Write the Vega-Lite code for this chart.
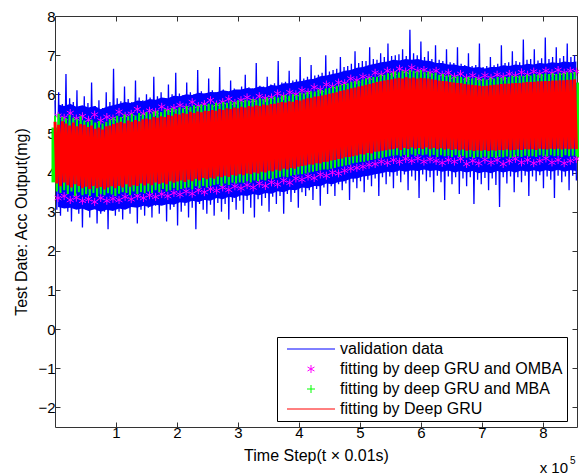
{
"$schema":"https://vega.github.io/schema/vega-lite/v6.json",
"width":522,"height":411,
"autosize":{"type":"none"},
"padding":{"left":55,"top":16,"right":2,"bottom":47},
"background":"white",
"config":{"view":{"stroke":"#333","strokeWidth":1},"font":"Liberation Sans",
"axis":{"labelFont":"Liberation Sans","titleFont":"Liberation Sans","labelFontSize":15,"titleFontSize":16,"titleFontWeight":"normal","labelColor":"#000","titleColor":"#000","tickColor":"#333","grid":false,"domain":false}},
"datasets":{
"main":[
{"x":0,"b":5.85,"g":5.45,"r":5.30},{"x":3000,"b":3.05,"g":3.52,"r":3.72},{"x":6000,"b":6.05,"g":5.50,"r":5.22},{"x":9000,"b":2.90,"g":3.48,"r":3.65},{"x":12000,"b":5.75,"g":5.42,"r":5.31},{"x":15000,"b":3.20,"g":3.55,"r":3.75},{"x":18000,"b":6.52,"g":5.38,"r":5.25},{"x":21000,"b":3.00,"g":3.45,"r":3.68},{"x":24000,"b":5.90,"g":5.47,"r":5.20},{"x":27000,"b":2.75,"g":3.52,"r":3.62},{"x":30000,"b":5.80,"g":5.40,"r":5.28},{"x":33000,"b":3.10,"g":3.40,"r":3.70},{"x":36000,"b":6.10,"g":5.36,"r":5.18},{"x":39000,"b":2.95,"g":3.50,"r":3.66},{"x":42000,"b":5.70,"g":5.44,"r":5.24},{"x":45000,"b":2.60,"g":3.42,"r":3.60},{"x":48000,"b":5.95,"g":5.33,"r":5.22},
{"x":51000,"b":3.05,"g":3.45,"r":3.64},{"x":54000,"b":5.78,"g":5.30,"r":5.16},{"x":57000,"b":2.85,"g":3.40,"r":3.58},{"x":60000,"b":6.30,"g":5.35,"r":5.20},{"x":63000,"b":3.15,"g":3.48,"r":3.66},{"x":66000,"b":5.70,"g":5.28,"r":5.12},{"x":69000,"b":2.70,"g":3.38,"r":3.60},{"x":72000,"b":5.85,"g":5.32,"r":5.15},{"x":75000,"b":2.95,"g":3.45,"r":3.63},{"x":78000,"b":5.65,"g":5.25,"r":5.10},{"x":81000,"b":3.00,"g":3.42,"r":3.57},{"x":84000,"b":6.05,"g":5.30,"r":5.18},{"x":87000,"b":2.55,"g":3.47,"r":3.62},{"x":90000,"b":5.80,"g":5.36,"r":5.20},{"x":93000,"b":3.10,"g":3.44,"r":3.65},{"x":96000,"b":6.65,"g":5.40,"r":5.24},{"x":99000,"b":2.90,"g":3.40,"r":3.60},
{"x":102000,"b":5.90,"g":5.45,"r":5.27},{"x":105000,"b":3.00,"g":3.46,"r":3.66},{"x":108000,"b":5.82,"g":5.42,"r":5.30},{"x":111000,"b":2.80,"g":3.50,"r":3.62},{"x":114000,"b":6.20,"g":5.48,"r":5.26},{"x":117000,"b":3.10,"g":3.48,"r":3.70},{"x":120000,"b":5.88,"g":5.44,"r":5.33},{"x":123000,"b":2.95,"g":3.42,"r":3.64},{"x":126000,"b":5.80,"g":5.50,"r":5.30},{"x":129000,"b":3.15,"g":3.52,"r":3.68},{"x":132000,"b":6.35,"g":5.46,"r":5.34},{"x":135000,"b":2.70,"g":3.45,"r":3.66},{"x":138000,"b":5.92,"g":5.52,"r":5.31},{"x":141000,"b":3.05,"g":3.50,"r":3.72},{"x":144000,"b":5.85,"g":5.48,"r":5.36},{"x":147000,"b":2.90,"g":3.47,"r":3.67},{"x":150000,"b":6.00,"g":5.55,"r":5.38},
{"x":153000,"b":3.10,"g":3.52,"r":3.72},{"x":156000,"b":5.92,"g":5.50,"r":5.36},{"x":159000,"b":2.85,"g":3.48,"r":3.68},{"x":162000,"b":6.45,"g":5.56,"r":5.42},{"x":165000,"b":3.15,"g":3.55,"r":3.75},{"x":168000,"b":5.95,"g":5.58,"r":5.40},{"x":171000,"b":2.95,"g":3.50,"r":3.71},{"x":174000,"b":6.05,"g":5.55,"r":5.44},{"x":177000,"b":3.20,"g":3.58,"r":3.74},{"x":180000,"b":5.90,"g":5.62,"r":5.42},{"x":183000,"b":2.75,"g":3.52,"r":3.70},{"x":186000,"b":6.25,"g":5.60,"r":5.47},{"x":189000,"b":3.05,"g":3.55,"r":3.78},{"x":192000,"b":6.00,"g":5.64,"r":5.45},{"x":195000,"b":3.12,"g":3.60,"r":3.74},{"x":198000,"b":6.55,"g":5.62,"r":5.50},{"x":201000,"b":2.65,"g":3.55,"r":3.77},
{"x":204000,"b":6.02,"g":5.66,"r":5.48},{"x":207000,"b":3.00,"g":3.58,"r":3.80},{"x":210000,"b":5.98,"g":5.64,"r":5.52},{"x":213000,"b":3.15,"g":3.60,"r":3.76},{"x":216000,"b":6.30,"g":5.70,"r":5.50},{"x":219000,"b":2.85,"g":3.62,"r":3.82},{"x":222000,"b":6.05,"g":5.68,"r":5.55},{"x":225000,"b":3.10,"g":3.57,"r":3.78},{"x":228000,"b":6.00,"g":5.72,"r":5.52},{"x":231000,"b":2.55,"g":3.65,"r":3.84},{"x":234000,"b":6.62,"g":5.70,"r":5.56},{"x":237000,"b":3.20,"g":3.60,"r":3.80},{"x":240000,"b":6.08,"g":5.74,"r":5.54},{"x":243000,"b":3.05,"g":3.66,"r":3.86},{"x":246000,"b":6.02,"g":5.72,"r":5.58},{"x":249000,"b":2.95,"g":3.62,"r":3.83},{"x":252000,"b":6.40,"g":5.76,"r":5.57},
{"x":255000,"b":3.18,"g":3.66,"r":3.87},{"x":258000,"b":6.10,"g":5.74,"r":5.60},{"x":261000,"b":2.90,"g":3.68,"r":3.84},{"x":264000,"b":6.05,"g":5.78,"r":5.58},{"x":267000,"b":3.22,"g":3.70,"r":3.90},{"x":270000,"b":6.70,"g":5.76,"r":5.62},{"x":273000,"b":3.00,"g":3.66,"r":3.88},{"x":276000,"b":6.12,"g":5.80,"r":5.60},{"x":279000,"b":3.20,"g":3.72,"r":3.92},{"x":282000,"b":6.08,"g":5.78,"r":5.64},{"x":285000,"b":2.80,"g":3.68,"r":3.89},{"x":288000,"b":6.35,"g":5.82,"r":5.62},{"x":291000,"b":3.25,"g":3.74,"r":3.94},{"x":294000,"b":6.15,"g":5.80,"r":5.66},{"x":297000,"b":3.05,"g":3.72,"r":3.92},{"x":300000,"b":6.10,"g":5.85,"r":5.64},{"x":303000,"b":3.28,"g":3.75,"r":3.96},
{"x":306000,"b":6.20,"g":5.82,"r":5.68},{"x":309000,"b":2.95,"g":3.74,"r":3.93},{"x":312000,"b":6.50,"g":5.86,"r":5.66},{"x":315000,"b":3.30,"g":3.78,"r":3.98},{"x":318000,"b":6.18,"g":5.84,"r":5.70},{"x":321000,"b":3.10,"g":3.75,"r":3.96},{"x":324000,"b":6.15,"g":5.88,"r":5.69},{"x":327000,"b":2.85,"g":3.80,"r":4.00},{"x":330000,"b":6.80,"g":5.86,"r":5.72},{"x":333000,"b":3.32,"g":3.78,"r":3.98},{"x":336000,"b":6.22,"g":5.90,"r":5.70},{"x":339000,"b":3.15,"g":3.82,"r":4.02},{"x":342000,"b":6.20,"g":5.88,"r":5.74},{"x":345000,"b":3.35,"g":3.80,"r":4.00},{"x":348000,"b":6.45,"g":5.92,"r":5.72},{"x":351000,"b":3.00,"g":3.84,"r":4.05},{"x":354000,"b":6.25,"g":5.90,"r":5.75},
{"x":357000,"b":3.38,"g":3.83,"r":4.03},{"x":360000,"b":6.28,"g":5.94,"r":5.76},{"x":363000,"b":3.20,"g":3.86,"r":4.07},{"x":366000,"b":6.85,"g":5.92,"r":5.78},{"x":369000,"b":3.40,"g":3.88,"r":4.05},{"x":372000,"b":6.30,"g":5.96,"r":5.80},{"x":375000,"b":2.95,"g":3.90,"r":4.10},{"x":378000,"b":6.32,"g":5.98,"r":5.79},{"x":381000,"b":3.45,"g":3.88,"r":4.08},{"x":384000,"b":6.60,"g":5.96,"r":5.82},{"x":387000,"b":3.25,"g":3.92,"r":4.12},{"x":390000,"b":6.35,"g":6.00,"r":5.81},{"x":393000,"b":3.48,"g":3.94,"r":4.10},{"x":396000,"b":6.38,"g":5.98,"r":5.85},{"x":399000,"b":3.10,"g":3.95,"r":4.15},{"x":402000,"b":6.95,"g":6.04,"r":5.84},{"x":405000,"b":3.50,"g":3.96,"r":4.17},
{"x":408000,"b":6.40,"g":6.02,"r":5.87},{"x":411000,"b":3.40,"g":3.98,"r":4.18},{"x":414000,"b":6.45,"g":6.06,"r":5.90},{"x":417000,"b":3.55,"g":4.00,"r":4.21},{"x":420000,"b":6.75,"g":6.08,"r":5.91},{"x":423000,"b":3.30,"g":4.02,"r":4.20},{"x":426000,"b":6.48,"g":6.07,"r":5.94},{"x":429000,"b":3.58,"g":4.04,"r":4.24},{"x":432000,"b":6.50,"g":6.12,"r":5.95},{"x":435000,"b":3.15,"g":4.06,"r":4.23},{"x":438000,"b":6.55,"g":6.10,"r":5.97},{"x":441000,"b":3.62,"g":4.08,"r":4.27},{"x":444000,"b":7.00,"g":6.15,"r":5.99},{"x":447000,"b":3.45,"g":4.08,"r":4.28},{"x":450000,"b":6.58,"g":6.16,"r":6.01},{"x":453000,"b":3.65,"g":4.10,"r":4.31},{"x":456000,"b":6.62,"g":6.20,"r":6.03},
{"x":459000,"b":3.40,"g":4.12,"r":4.32},{"x":462000,"b":6.65,"g":6.22,"r":6.05},{"x":465000,"b":3.70,"g":4.15,"r":4.35},{"x":468000,"b":6.95,"g":6.24,"r":6.08},{"x":471000,"b":3.55,"g":4.16,"r":4.36},{"x":474000,"b":6.70,"g":6.26,"r":6.10},{"x":477000,"b":3.72,"g":4.18,"r":4.39},{"x":480000,"b":6.72,"g":6.28,"r":6.13},{"x":483000,"b":3.30,"g":4.20,"r":4.40},{"x":486000,"b":6.78,"g":6.32,"r":6.15},{"x":489000,"b":3.75,"g":4.24,"r":4.42},{"x":492000,"b":7.10,"g":6.33,"r":6.17},{"x":495000,"b":3.60,"g":4.25,"r":4.44},{"x":498000,"b":6.80,"g":6.35,"r":6.20},{"x":501000,"b":3.78,"g":4.27,"r":4.47},{"x":504000,"b":6.85,"g":6.38,"r":6.22},{"x":507000,"b":3.50,"g":4.28,"r":4.46},
{"x":510000,"b":6.85,"g":6.40,"r":6.24},{"x":513000,"b":3.82,"g":4.30,"r":4.50},{"x":516000,"b":7.20,"g":6.42,"r":6.26},{"x":519000,"b":3.65,"g":4.32,"r":4.49},{"x":522000,"b":6.90,"g":6.44,"r":6.29},{"x":525000,"b":3.85,"g":4.34,"r":4.53},{"x":528000,"b":6.88,"g":6.45,"r":6.31},{"x":531000,"b":3.40,"g":4.36,"r":4.54},{"x":534000,"b":7.05,"g":6.50,"r":6.33},{"x":537000,"b":3.88,"g":4.38,"r":4.56},{"x":540000,"b":6.95,"g":6.50,"r":6.35},{"x":543000,"b":3.70,"g":4.40,"r":4.57},{"x":546000,"b":7.30,"g":6.54,"r":6.37},{"x":549000,"b":3.90,"g":4.42,"r":4.59},{"x":552000,"b":6.98,"g":6.55,"r":6.38},{"x":555000,"b":3.60,"g":4.43,"r":4.60},{"x":558000,"b":7.00,"g":6.58,"r":6.40},
{"x":561000,"b":3.92,"g":4.44,"r":4.62},{"x":564000,"b":7.02,"g":6.56,"r":6.42},{"x":567000,"b":3.75,"g":4.42,"r":4.58},{"x":570000,"b":7.15,"g":6.60,"r":6.40},{"x":573000,"b":3.95,"g":4.45,"r":4.63},{"x":576000,"b":6.98,"g":6.58,"r":6.44},{"x":579000,"b":3.55,"g":4.40,"r":4.60},{"x":582000,"b":7.65,"g":6.62,"r":6.41},{"x":585000,"b":3.90,"g":4.46,"r":4.64},{"x":588000,"b":7.05,"g":6.60,"r":6.43},{"x":591000,"b":3.80,"g":4.43,"r":4.61},{"x":594000,"b":7.00,"g":6.58,"r":6.40},{"x":597000,"b":3.35,"g":4.47,"r":4.63},{"x":600000,"b":7.35,"g":6.62,"r":6.42},{"x":603000,"b":3.95,"g":4.44,"r":4.60},{"x":606000,"b":6.95,"g":6.56,"r":6.41},{"x":609000,"b":3.78,"g":4.46,"r":4.64},
{"x":612000,"b":7.10,"g":6.58,"r":6.40},{"x":615000,"b":3.88,"g":4.42,"r":4.60},{"x":618000,"b":6.90,"g":6.54,"r":6.38},{"x":621000,"b":3.50,"g":4.45,"r":4.63},{"x":624000,"b":7.25,"g":6.55,"r":6.37},{"x":627000,"b":3.92,"g":4.40,"r":4.60},{"x":630000,"b":6.88,"g":6.50,"r":6.35},{"x":633000,"b":3.75,"g":4.44,"r":4.62},{"x":636000,"b":6.85,"g":6.52,"r":6.34},{"x":639000,"b":3.30,"g":4.42,"r":4.59},{"x":642000,"b":7.15,"g":6.48,"r":6.33},{"x":645000,"b":3.90,"g":4.43,"r":4.61},{"x":648000,"b":6.82,"g":6.49,"r":6.31},{"x":651000,"b":3.70,"g":4.40,"r":4.58},{"x":654000,"b":6.80,"g":6.45,"r":6.30},{"x":657000,"b":3.88,"g":4.44,"r":4.60},{"x":660000,"b":7.20,"g":6.46,"r":6.29},
{"x":663000,"b":3.45,"g":4.40,"r":4.57},{"x":666000,"b":6.78,"g":6.44,"r":6.28},{"x":669000,"b":3.85,"g":4.42,"r":4.59},{"x":672000,"b":6.75,"g":6.42,"r":6.26},{"x":675000,"b":3.65,"g":4.38,"r":4.56},{"x":678000,"b":7.05,"g":6.44,"r":6.25},{"x":681000,"b":3.88,"g":4.40,"r":4.58},{"x":684000,"b":6.72,"g":6.40,"r":6.24},{"x":687000,"b":3.20,"g":4.37,"r":4.55},{"x":690000,"b":6.75,"g":6.42,"r":6.23},{"x":693000,"b":3.82,"g":4.40,"r":4.57},{"x":696000,"b":7.30,"g":6.38,"r":6.22},{"x":699000,"b":3.70,"g":4.38,"r":4.56},{"x":702000,"b":6.70,"g":6.40,"r":6.21},{"x":705000,"b":3.86,"g":4.41,"r":4.58},{"x":708000,"b":6.72,"g":6.38,"r":6.22},{"x":711000,"b":3.55,"g":4.36,"r":4.55},
{"x":714000,"b":6.95,"g":6.42,"r":6.23},{"x":717000,"b":3.85,"g":4.40,"r":4.57},{"x":720000,"b":6.74,"g":6.40,"r":6.24},{"x":723000,"b":3.68,"g":4.38,"r":4.56},{"x":726000,"b":6.78,"g":6.44,"r":6.25},{"x":729000,"b":3.12,"g":4.40,"r":4.58},{"x":732000,"b":7.25,"g":6.42,"r":6.26},{"x":735000,"b":3.88,"g":4.39,"r":4.57},{"x":738000,"b":6.80,"g":6.45,"r":6.27},{"x":741000,"b":3.72,"g":4.41,"r":4.59},{"x":744000,"b":6.82,"g":6.44,"r":6.27},{"x":747000,"b":3.90,"g":4.38,"r":4.57},{"x":750000,"b":7.10,"g":6.47,"r":6.28},{"x":753000,"b":3.50,"g":4.40,"r":4.58},{"x":756000,"b":6.85,"g":6.46,"r":6.29},{"x":759000,"b":3.88,"g":4.42,"r":4.59},{"x":762000,"b":6.82,"g":6.48,"r":6.29},
{"x":765000,"b":3.75,"g":4.40,"r":4.58},{"x":768000,"b":7.40,"g":6.47,"r":6.30},{"x":771000,"b":3.92,"g":4.43,"r":4.60},{"x":774000,"b":6.88,"g":6.50,"r":6.31},{"x":777000,"b":3.40,"g":4.41,"r":4.59},{"x":780000,"b":6.90,"g":6.48,"r":6.31},{"x":783000,"b":3.90,"g":4.42,"r":4.60},{"x":786000,"b":7.15,"g":6.52,"r":6.32},{"x":789000,"b":3.78,"g":4.40,"r":4.58},{"x":792000,"b":6.86,"g":6.50,"r":6.33},{"x":795000,"b":3.93,"g":4.44,"r":4.61},{"x":798000,"b":6.92,"g":6.52,"r":6.33},{"x":801000,"b":3.60,"g":4.42,"r":4.60},{"x":804000,"b":7.45,"g":6.53,"r":6.34},{"x":807000,"b":3.90,"g":4.41,"r":4.59},{"x":810000,"b":6.90,"g":6.52,"r":6.34},{"x":813000,"b":3.82,"g":4.44,"r":4.61},
{"x":816000,"b":6.95,"g":6.54,"r":6.35},{"x":819000,"b":3.35,"g":4.42,"r":4.60},{"x":822000,"b":7.20,"g":6.52,"r":6.35},{"x":825000,"b":3.92,"g":4.43,"r":4.61},{"x":828000,"b":6.92,"g":6.55,"r":6.36},{"x":831000,"b":3.75,"g":4.40,"r":4.59},{"x":834000,"b":6.98,"g":6.54,"r":6.36},{"x":837000,"b":3.90,"g":4.44,"r":4.61},{"x":840000,"b":7.30,"g":6.56,"r":6.37},{"x":843000,"b":3.55,"g":4.42,"r":4.60},{"x":846000,"b":6.95,"g":6.55,"r":6.37},{"x":849000,"b":3.92,"g":4.43,"r":4.61},{"x":852000,"b":7.00,"g":6.57,"r":6.38},{"x":855000,"b":3.80,"g":4.42,"r":4.60}
],
"env":[
{"x":5000,"t":5.45,"b":3.35,"bt":5.74,"bb":3.12},{"x":15000,"t":5.40,"b":3.40,"bt":5.70,"bb":3.08},{"x":25000,"t":5.52,"b":3.30,"bt":5.76,"bb":3.10},{"x":35000,"t":5.38,"b":3.36,"bt":5.68,"bb":3.05},{"x":45000,"t":5.44,"b":3.28,"bt":5.72,"bb":3.08},{"x":55000,"t":5.35,"b":3.32,"bt":5.66,"bb":3.02},{"x":65000,"t":5.48,"b":3.25,"bt":5.70,"bb":3.06},{"x":75000,"t":5.33,"b":3.35,"bt":5.62,"bb":3.00},{"x":85000,"t":5.42,"b":3.28,"bt":5.68,"bb":3.05},{"x":95000,"t":5.38,"b":3.33,"bt":5.72,"bb":3.02},
{"x":105000,"t":5.55,"b":3.30,"bt":5.76,"bb":3.08},{"x":115000,"t":5.45,"b":3.38,"bt":5.80,"bb":3.05},{"x":125000,"t":5.50,"b":3.32,"bt":5.78,"bb":3.12},{"x":135000,"t":5.62,"b":3.40,"bt":5.84,"bb":3.10},{"x":145000,"t":5.50,"b":3.35,"bt":5.82,"bb":3.15},{"x":155000,"t":5.58,"b":3.42,"bt":5.88,"bb":3.12},{"x":165000,"t":5.55,"b":3.38,"bt":5.86,"bb":3.18},{"x":175000,"t":5.68,"b":3.45,"bt":5.92,"bb":3.15},{"x":185000,"t":5.60,"b":3.40,"bt":5.90,"bb":3.20},{"x":195000,"t":5.65,"b":3.48,"bt":5.96,"bb":3.18},
{"x":205000,"t":5.72,"b":3.44,"bt":5.95,"bb":3.24},{"x":215000,"t":5.66,"b":3.52,"bt":6.00,"bb":3.22},{"x":225000,"t":5.80,"b":3.46,"bt":5.98,"bb":3.28},{"x":235000,"t":5.70,"b":3.55,"bt":6.04,"bb":3.25},{"x":245000,"t":5.75,"b":3.50,"bt":6.02,"bb":3.30},{"x":255000,"t":5.85,"b":3.58,"bt":6.06,"bb":3.28},{"x":265000,"t":5.74,"b":3.54,"bt":6.05,"bb":3.35},{"x":275000,"t":5.80,"b":3.62,"bt":6.10,"bb":3.32},{"x":285000,"t":5.88,"b":3.56,"bt":6.08,"bb":3.38},{"x":295000,"t":5.78,"b":3.65,"bt":6.12,"bb":3.35},
{"x":305000,"t":5.85,"b":3.60,"bt":6.12,"bb":3.42},{"x":315000,"t":5.92,"b":3.68,"bt":6.16,"bb":3.40},{"x":325000,"t":5.84,"b":3.62,"bt":6.15,"bb":3.45},{"x":335000,"t":5.95,"b":3.72,"bt":6.20,"bb":3.42},{"x":345000,"t":5.90,"b":3.66,"bt":6.18,"bb":3.48},{"x":355000,"t":5.92,"b":3.75,"bt":6.24,"bb":3.46},{"x":365000,"t":6.02,"b":3.70,"bt":6.22,"bb":3.52},{"x":375000,"t":5.95,"b":3.80,"bt":6.28,"bb":3.50},{"x":385000,"t":6.05,"b":3.74,"bt":6.28,"bb":3.56},{"x":395000,"t":6.00,"b":3.85,"bt":6.32,"bb":3.55},
{"x":405000,"t":6.10,"b":3.82,"bt":6.34,"bb":3.62},{"x":415000,"t":6.05,"b":3.90,"bt":6.38,"bb":3.60},{"x":425000,"t":6.18,"b":3.86,"bt":6.40,"bb":3.66},{"x":435000,"t":6.12,"b":3.95,"bt":6.46,"bb":3.65},{"x":445000,"t":6.25,"b":3.92,"bt":6.48,"bb":3.72},{"x":455000,"t":6.20,"b":4.00,"bt":6.52,"bb":3.70},{"x":465000,"t":6.30,"b":3.98,"bt":6.55,"bb":3.76},{"x":475000,"t":6.28,"b":4.05,"bt":6.60,"bb":3.78},{"x":485000,"t":6.40,"b":4.10,"bt":6.62,"bb":3.84},{"x":495000,"t":6.36,"b":4.12,"bt":6.68,"bb":3.85},
{"x":505000,"t":6.45,"b":4.15,"bt":6.70,"bb":3.90},{"x":515000,"t":6.42,"b":4.20,"bt":6.75,"bb":3.92},{"x":525000,"t":6.55,"b":4.22,"bt":6.78,"bb":3.96},{"x":535000,"t":6.50,"b":4.28,"bt":6.82,"bb":3.98},{"x":545000,"t":6.60,"b":4.25,"bt":6.84,"bb":4.02},{"x":555000,"t":6.55,"b":4.32,"bt":6.88,"bb":4.00},{"x":565000,"t":6.65,"b":4.28,"bt":6.86,"bb":4.05},{"x":575000,"t":6.58,"b":4.35,"bt":6.90,"bb":4.02},{"x":585000,"t":6.68,"b":4.30,"bt":6.88,"bb":4.06},{"x":595000,"t":6.60,"b":4.36,"bt":6.90,"bb":4.04},
{"x":605000,"t":6.62,"b":4.28,"bt":6.86,"bb":4.08},{"x":615000,"t":6.55,"b":4.34,"bt":6.85,"bb":4.04},{"x":625000,"t":6.60,"b":4.30,"bt":6.80,"bb":4.06},{"x":635000,"t":6.50,"b":4.25,"bt":6.80,"bb":4.02},{"x":645000,"t":6.55,"b":4.32,"bt":6.76,"bb":4.05},{"x":655000,"t":6.45,"b":4.28,"bt":6.76,"bb":4.00},{"x":665000,"t":6.52,"b":4.35,"bt":6.72,"bb":4.04},{"x":675000,"t":6.42,"b":4.22,"bt":6.72,"bb":4.00},{"x":685000,"t":6.48,"b":4.30,"bt":6.68,"bb":4.04},{"x":695000,"t":6.40,"b":4.24,"bt":6.70,"bb":3.98},
{"x":705000,"t":6.48,"b":4.33,"bt":6.66,"bb":4.02},{"x":715000,"t":6.42,"b":4.26,"bt":6.70,"bb":3.98},{"x":725000,"t":6.50,"b":4.32,"bt":6.70,"bb":4.04},{"x":735000,"t":6.45,"b":4.22,"bt":6.74,"bb":4.00},{"x":745000,"t":6.52,"b":4.30,"bt":6.72,"bb":4.04},{"x":755000,"t":6.48,"b":4.35,"bt":6.76,"bb":4.00},{"x":765000,"t":6.56,"b":4.26,"bt":6.74,"bb":4.05},{"x":775000,"t":6.50,"b":4.32,"bt":6.78,"bb":4.02},{"x":785000,"t":6.58,"b":4.24,"bt":6.76,"bb":4.06},{"x":795000,"t":6.52,"b":4.30,"bt":6.80,"bb":4.02},
{"x":805000,"t":6.60,"b":4.36,"bt":6.78,"bb":4.06},{"x":815000,"t":6.54,"b":4.26,"bt":6.82,"bb":4.03},{"x":825000,"t":6.62,"b":4.32,"bt":6.80,"bb":4.07},{"x":835000,"t":6.55,"b":4.24,"bt":6.84,"bb":4.02},{"x":845000,"t":6.60,"b":4.30,"bt":6.82,"bb":4.06},{"x":855000,"t":6.58,"b":4.35,"bt":6.84,"bb":4.04}
]
},
"layer":[
{"data":{"values":[{"x":0,"lo":3.75,"hi":5.15},{"x":856000,"lo":4.38,"hi":6.3}]},
 "mark":{"type":"rule","strokeWidth":7,"clip":false},
 "encoding":{"x":{"field":"x","type":"quantitative","scale":{"domain":[0,856000],"nice":false},"axis":null},
  "y":{"field":"lo","type":"quantitative","scale":{"domain":[-2.5,8],"nice":false,"zero":false},"axis":null},"y2":{"field":"hi"},
  "color":{"datum":"fitting by deep GRU and MBA"}}},
{"data":{"name":"env"},
 "mark":{"type":"area","opacity":1},
 "encoding":{"x":{"field":"x","type":"quantitative","axis":null},"y":{"field":"bb","type":"quantitative","axis":null},"y2":{"field":"bt"},"color":{"datum":"validation data"}}},
{"data":{"name":"main"},
 "mark":{"type":"line","strokeWidth":1.3,"interpolate":"linear"},
 "encoding":{"x":{"field":"x","type":"quantitative","scale":{"domain":[0,856000],"nice":false},
   "axis":{"orient":"bottom","values":[100000,200000,300000,400000,500000,600000,700000,800000],"labelExpr":"datum.value/100000","tickSize":-5,"labelPadding":3,"title":"Time Step(t × 0.01s)","titlePadding":7}},
  "y":{"field":"b","type":"quantitative","scale":{"domain":[-2.5,8],"nice":false,"zero":false},
   "axis":{"orient":"left","values":[-2,-1,0,1,2,3,4,5,6,7,8],"tickSize":-5,"labelPadding":5,"title":"Test Date: Acc Output(mg)","titlePadding":8}},
  "color":{"datum":"validation data","scale":{"domain":["validation data","fitting by deep GRU and OMBA","fitting by deep GRU and MBA","fitting by Deep GRU"],"range":["#0000ff","#ff00ff","#00ff00","#ff0000"]},
   "legend":{"orient":"none","legendX":222,"legendY":321,"title":null,"labelFont":"Liberation Sans","labelFontSize":16,"labelColor":"#000","labelLimit":400,"labelExpr":"datum.label + '  '","symbolSize":225,"symbolOffset":22,"labelOffset":21,"padding":4,"rowPadding":4,"strokeColor":"#000","fillColor":"#fff","cornerRadius":0,
    "encode":{"symbols":{"update":{"shape":{"signal":"datum.value == 'fitting by deep GRU and OMBA' ? 'M0,-1L0,1M-0.87,-0.5L0.87,0.5M-0.87,0.5L0.87,-0.5' : (datum.value == 'fitting by deep GRU and MBA' ? 'M-1,0L1,0M0,-1L0,1' : 'M-3.2,0L3.2,0')"},
     "size":{"signal":"(datum.value == 'fitting by deep GRU and OMBA' || datum.value == 'fitting by deep GRU and MBA') ? 64 : 225"},
     "stroke":{"scale":"color","field":"value"},"fill":{"value":"transparent"},"strokeWidth":{"value":1},"opacity":{"value":1}}}}}}}},
{"data":{"name":"env"},
 "mark":{"type":"point","shape":"M0,-1L0,1M-0.87,-0.5L0.87,0.5M-0.87,0.5L0.87,-0.5","filled":false,"size":64,"strokeWidth":1,"opacity":1},
 "encoding":{"x":{"field":"x","type":"quantitative","axis":null},"y":{"field":"t","type":"quantitative","axis":null},"color":{"datum":"fitting by deep GRU and OMBA"}}},
{"data":{"name":"env"},
 "mark":{"type":"point","shape":"M0,-1L0,1M-0.87,-0.5L0.87,0.5M-0.87,0.5L0.87,-0.5","filled":false,"size":64,"strokeWidth":1,"opacity":1},
 "encoding":{"x":{"field":"x","type":"quantitative","axis":null},"y":{"field":"b","type":"quantitative","axis":null},"color":{"datum":"fitting by deep GRU and OMBA"}}},
{"data":{"name":"main"},
 "mark":{"type":"line","strokeWidth":2,"interpolate":"linear"},
 "encoding":{"x":{"field":"x","type":"quantitative","axis":null},"y":{"field":"g","type":"quantitative","axis":null},"color":{"datum":"fitting by deep GRU and MBA"}}},
{"data":{"name":"main"},
 "mark":{"type":"line","strokeWidth":3,"interpolate":"linear"},
 "encoding":{"x":{"field":"x","type":"quantitative",
   "axis":{"orient":"top","values":[100000,200000,300000,400000,500000,600000,700000,800000],"labels":false,"tickSize":-5,"title":null}},
  "y":{"field":"r","type":"quantitative",
   "axis":{"orient":"right","values":[-2,-1,0,1,2,3,4,5,6,7,8],"labels":false,"tickSize":-5,"title":null}},
  "color":{"datum":"fitting by Deep GRU"}}},
{"data":{"values":[{}]},
 "mark":{"type":"text","text":"x 10","align":"right","baseline":"alphabetic","dx":-9,"dy":46,"fontSize":15,"font":"Liberation Sans","color":"#000","clip":false},
 "encoding":{"x":{"datum":856000,"type":"quantitative","axis":null},"y":{"datum":-2.5,"type":"quantitative","axis":null}}},
{"data":{"values":[{}]},
 "mark":{"type":"text","text":"5","align":"left","baseline":"alphabetic","dx":-7,"dy":37,"fontSize":10,"font":"Liberation Sans","color":"#000","clip":false},
 "encoding":{"x":{"datum":856000,"type":"quantitative","axis":null},"y":{"datum":-2.5,"type":"quantitative","axis":null}}}
],
"resolve":{"axis":{"x":"independent","y":"independent"}}
}
